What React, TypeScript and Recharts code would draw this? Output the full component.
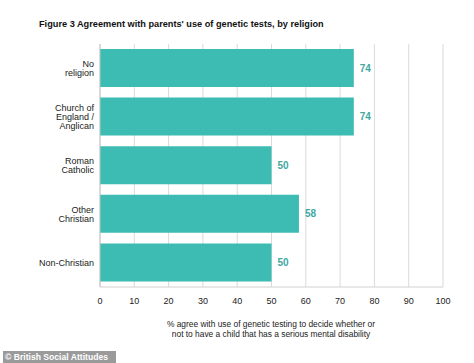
import { Bar, BarChart, CartesianGrid, LabelList, XAxis, YAxis } from "recharts";

const categories = ["No\nreligion", "Church of\nEngland /\nAnglican", "Roman\nCatholic", "Other\nChristian", "Non-Christian"];
const agreePct = [74, 74, 50, 58, 50];
const xTicks = [0, 10, 20, 30, 40, 50, 60, 70, 80, 90, 100];

const FONT = "'Liberation Sans', Arial, Helvetica, sans-serif";
const TEAL = "#3dbcb3";
const TEAL_TEXT = "#3fa8a2";

function CategoryTick(props: any) {
  const { x, y, payload } = props;
  const lines: string[] = String(payload.value).split("\n");
  const lh = 8.8;
  const startY = y - ((lines.length - 1) * lh) / 2;
  return (
    <text x={x} y={startY} textAnchor="end" fontSize={9} fill="#222" fontFamily={FONT} dominantBaseline="central">
      {lines.map((l, i) => (
        <tspan key={i} x={x} dy={i === 0 ? 0 : lh}>
          {l}
        </tspan>
      ))}
    </text>
  );
}

export default function App() {
  const data = categories.map((c, i) => ({ name: c, value: agreePct[i] }));
  return (
    <div style={{ position: "absolute", left: 0, top: 0, width: 474, height: 363, background: "#fff", fontFamily: FONT, overflow: "hidden" }}>
      <div style={{ position: "absolute", left: 39, top: 19, fontSize: 9.2, fontWeight: 700, color: "#111", whiteSpace: "nowrap" }}>
        Figure 3 Agreement with parents' use of genetic tests, by religion
      </div>
      <BarChart width={474} height={320} data={data} layout="vertical" margin={{ top: 44, right: 31, bottom: 13, left: 0 }}>
        <CartesianGrid horizontal={false} stroke="#dadada" />
        <XAxis
          type="number"
          domain={[0, 100]}
          ticks={xTicks}
          interval={0}
          height={20}
          tickLine={false}
          tickMargin={5}
          axisLine={{ stroke: "#d0d0d0" }}
          tick={{ fontSize: 9, fill: "#222", fontFamily: FONT }}
        />
        <YAxis
          type="category"
          dataKey="name"
          width={100}
          interval={0}
          tickLine={false}
          tickSize={6}
          tickMargin={0}
          axisLine={{ stroke: "#c4c4c4" }}
          tick={<CategoryTick />}
        />
        <Bar dataKey="value" fill={TEAL} barSize={38} isAnimationActive={false}>
          <LabelList dataKey="value" position="right" offset={6} fill={TEAL_TEXT} fontSize={10} fontWeight={700} fontFamily={FONT} />
        </Bar>
      </BarChart>
      <div style={{ position: "absolute", left: 161, top: 319, width: 220, textAlign: "center", fontSize: 8.4, lineHeight: "10px", color: "#222" }}>
        % agree with use of genetic testing to decide whether or not to have a child that has a serious mental disability
      </div>
      <div style={{ position: "absolute", left: 3, top: 351, width: 113, height: 12, background: "#9a9a9a", color: "#fff", fontSize: 8.6, fontWeight: 700, lineHeight: "12px", paddingLeft: 2, boxSizing: "border-box", whiteSpace: "nowrap" }}>
        © British Social Attitudes
      </div>
    </div>
  );
}
